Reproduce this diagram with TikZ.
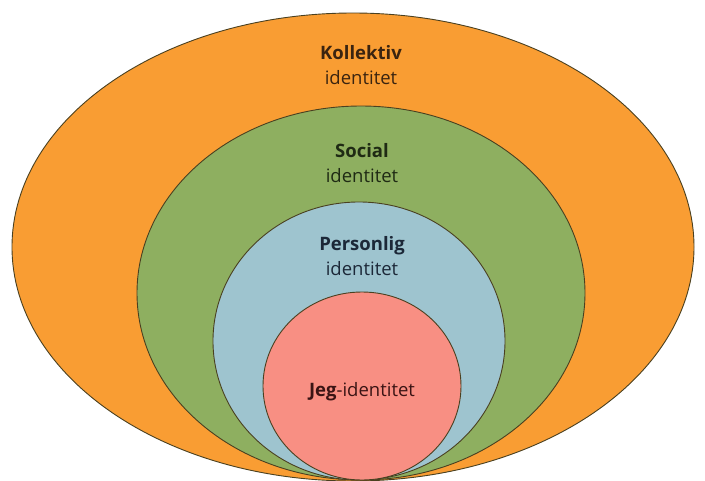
\documentclass[tikz,border=0pt]{standalone}
\usepackage{fontspec}
\setmainfont{Open Sans}
\definecolor{cOrange}{HTML}{F99D33}
\definecolor{cGreen}{HTML}{8EAF60}
\definecolor{cBlue}{HTML}{9EC4CF}
\definecolor{cRed}{HTML}{F88F83}
\definecolor{cLine}{HTML}{4A4020}
\definecolor{tOrange}{HTML}{3A2410}
\definecolor{tGreen}{HTML}{1F2A14}
\definecolor{tBlue}{HTML}{1C2838}
\definecolor{tRed}{HTML}{3A1414}
\begin{document}
\begin{tikzpicture}[x=1pt,y=-1pt,
  ring/.style={draw=cLine,line width=0.9pt},
  lbl/.style={font=\fontsize{18.5}{25.5}\selectfont,align=center,inner sep=0pt}]
\useasboundingbox (0,0) rectangle (705,480);
\fill[white] (0,0) rectangle (705,480);
\path[ring,fill=cOrange] (353,247) ellipse [x radius=341,y radius=234];
\path[ring,fill=cGreen] (361,293) ellipse [x radius=224,y radius=187];
\path[ring,fill=cBlue] (359,341) ellipse [x radius=146,y radius=139];
\path[ring,fill=cRed] (362,386) ellipse [x radius=99,y radius=94];
\node[lbl,text=tOrange] (kol) at (361,65) {\textbf{Kollektiv}\\identitet};
\node[lbl,text=tGreen] (soc) at (362,163) {\textbf{Social}\\identitet};
\node[lbl,text=tBlue] (per) at (362,256) {\textbf{Personlig}\\identitet};
\node[lbl,text=tRed] (jeg) at (362,392) {\textbf{Jeg}-identitet};
\end{tikzpicture}
\end{document}
